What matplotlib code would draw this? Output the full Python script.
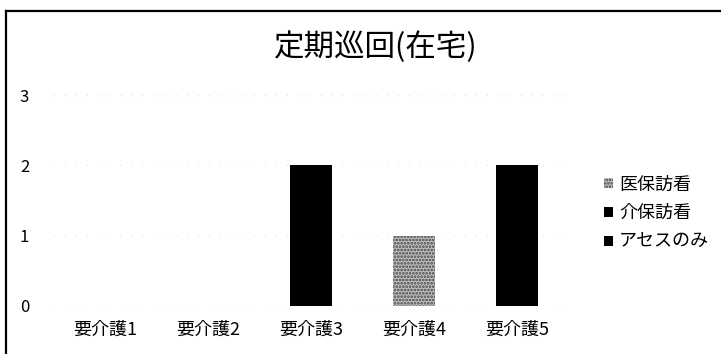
import matplotlib
from matplotlib import pyplot as plt
from matplotlib.lines import Line2D
import numpy as np
plt.switch_backend('agg')

plt.rcParams['font.family'] = ['Noto Sans CJK JP', 'DejaVu Sans']
plt.rcParams['hatch.linewidth'] = 1.3

# data
categories = ['要介護1', '要介護2', '要介護3', '要介護4', '要介護5']
iho_houkan = [0, 0, 0, 1, 0]      # 医保訪看
kaiho_houkan = [0, 0, 2, 0, 2]    # 介保訪看
assess_only = [0, 0, 0, 0, 0]     # アセスのみ
series_labels = ['医保訪看', '介保訪看', 'アセスのみ']
title = '定期巡回(在宅)'

fig = plt.figure(figsize=(7.21, 3.54), dpi=100)
ax = fig.add_axes([0.0742, 0.1356, 0.7143, 0.596])

x = np.arange(len(categories))
w = 0.41
b1 = ax.bar(x, iho_houkan, w, color='#c0c0c0', edgecolor='#444444',
            hatch='.....', linewidth=0)
bottom = np.array(iho_houkan)
b2 = ax.bar(x, kaiho_houkan, w, bottom=bottom, color='black', linewidth=0)
bottom = bottom + np.array(kaiho_houkan)
b3 = ax.bar(x, assess_only, w, bottom=bottom, color='black', linewidth=0)

ax.set_xlim(-0.5, len(categories) - 0.5)
ax.set_ylim(0, 3)
ax.set_yticks([0, 1, 2, 3])
ax.set_xticks(x)
ax.set_xticklabels(categories, fontsize=13)
ax.tick_params(axis='y', length=0, pad=17.5, labelsize=12)
ax.tick_params(axis='x', length=0, pad=10.5)
ax.grid(axis='y', color='#e0e0e0', linestyle=(0, (1, 9)), linewidth=0.8)
ax.set_axisbelow(True)
for s in ax.spines.values():
    s.set_visible(False)

fig.text(376 / 721, 1 - 47.5 / 354, title, ha='center', va='center',
         fontsize=22)

fig.legend([b1, b2, b3], series_labels, loc='upper left',
           bbox_to_anchor=(0.815, 0.55), frameon=False, fontsize=13,
           handlelength=0.5, handleheight=0.5, handletextpad=0.35,
           labelspacing=0.6)

# outer frame (top and left edges)
fig.add_artist(Line2D([6 / 721, 1], [1 - 11 / 354, 1 - 11 / 354],
                      transform=fig.transFigure, color='black', linewidth=1.6))
fig.add_artist(Line2D([6 / 721, 6 / 721], [0, 1 - 11 / 354],
                      transform=fig.transFigure, color='black', linewidth=1.6))

fig.savefig('out.png', dpi=100)
